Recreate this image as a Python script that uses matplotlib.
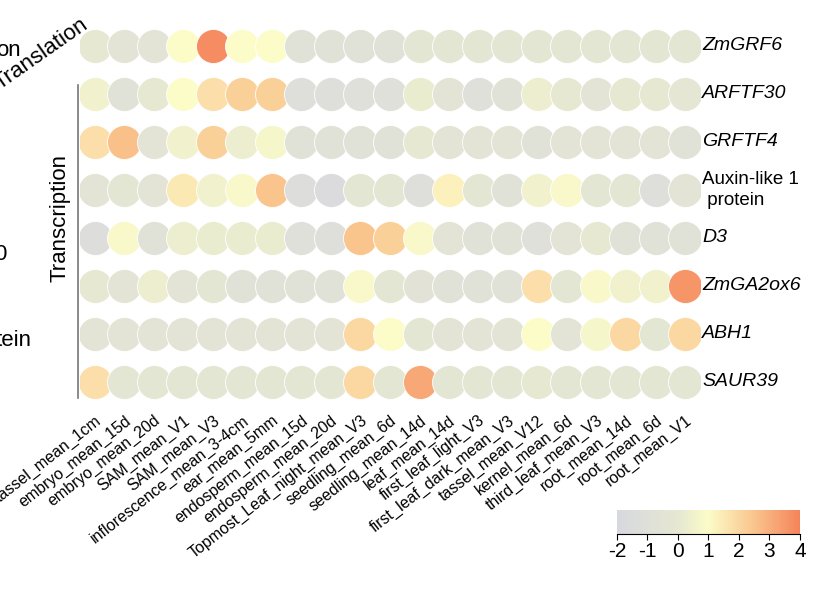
import matplotlib
matplotlib.use("Agg")
import matplotlib.pyplot as plt
from matplotlib.colors import LinearSegmentedColormap, Normalize
import numpy as np

plt.rcParams["font.family"] = "Liberation Sans"

samples = ["tassel_mean_1cm","embryo_mean_15d","embryo_mean_20d","SAM_mean_V1","SAM_mean_V3",
           "inflorescence_mean_3-4cm","ear_mean_5mm","endosperm_mean_15d","endosperm_mean_20d",
           "Topmost_Leaf_night_mean_V3","seedling_mean_6d","seedling_mean_14d","leaf_mean_14d",
           "first_leaf_light_V3","first_leaf_dark_mean_V3","tassel_mean_V12","kernel_mean_6d",
           "third_leaf_mean_V3","root_mean_14d","root_mean_6d","root_mean_V1"]
genes = ["ZmGRF6","ARFTF30","GRFTF4","Auxin-like 1\n protein","D3","ZmGA2ox6","ABH1","SAUR39"]
italic = [True, True, True, False, True, True, True, True]

ZmGRF6   = [0,-0.5,-0.5,1,3.8,1,1,-0.8,-0.8,-0.8,-0.8,-0.3,-0.3,-0.3,-0.3,-0.3,-0.3,-0.3,-0.3,-0.3,-0.3]
ARFTF30  = [0.5,-0.7,0,1,1.8,2.2,2.2,-1.2,-1.2,-1,-1,0.2,-0.5,-1,-0.7,0.3,0,-0.5,0,0,-0.2]
GRFTF4   = [1.8,2.6,-0.5,0.5,2.2,0.3,0.7,-0.8,-0.8,-0.8,-0.8,0,-0.5,-0.5,-0.5,-0.7,-0.5,-0.5,-0.5,-0.5,-0.7]
Auxin1   = [-0.5,-0.3,-0.5,1.5,0.5,0.8,2.5,-1.3,-1.6,-0.3,-0.3,-1.2,1.3,-0.3,-0.8,0.5,0.8,-0.3,-0.3,-1.2,-0.5]
D3       = [-1.3,0.8,-0.8,0.3,0.2,0.2,0.2,-1,-1.2,2.5,2.2,0.8,-0.5,-0.7,-0.7,-1,-0.5,0,-0.7,-0.7,-0.7]
ZmGA2ox6 = [0,-0.5,0.3,-0.5,-0.3,-0.8,-0.7,-0.7,-0.7,0.8,-0.3,-0.6,-0.7,-0.7,-0.8,1.8,-0.3,0.8,0.5,0.5,3.6]
ABH1     = [-0.5,-0.5,-0.5,-0.5,-0.5,-0.5,-0.5,-0.5,-0.5,2,1,-0.3,-0.5,-0.5,-0.5,1,-0.5,0.7,2,-0.3,2]
SAUR39   = [1.8,-0.3,-0.3,-0.3,-0.3,-0.3,-0.3,-0.3,-0.3,2,-0.3,3.2,-0.3,-0.3,-0.3,0,-0.3,-0.3,-0.3,-0.3,-0.3]
values = [ZmGRF6, ARFTF30, GRFTF4, Auxin1, D3, ZmGA2ox6, ABH1, SAUR39]
cbar_ticks = [-2,-1,0,1,2,3,4]

cmap = LinearSegmentedColormap.from_list("c", [(0,"#d8d8e0"),(1/3,"#e6e8d2"),(0.5,"#fcfcc8"),(0.75,"#fac58e"),(1,"#f5845a")])
norm = Normalize(-2, 4)

fig = plt.figure(figsize=(8.2, 6.04), dpi=100)
ax = fig.add_axes([0.0976, 0.328, 0.756, 0.636])
ax.set_xlim(-0.5, len(samples)-0.5)
ax.set_ylim(len(genes)-0.5, -0.5)
for i, row in enumerate(values):
    for j, v in enumerate(row):
        ax.scatter(j, i, s=600, color=cmap(norm(v)), edgecolors="white", linewidths=0.6, zorder=2+j)
ax.set_xticks(range(len(samples)))
ax.set_xticklabels(samples, rotation=38, ha="right", rotation_mode="anchor", fontsize=11.5)
ax.tick_params(axis="x", length=0, pad=5)
ax.set_yticks([])
for s in ax.spines.values():
    s.set_visible(False)
for i, g in enumerate(genes):
    ax.text(len(samples)-0.42, i, g, fontsize=14 if italic[i] else 13.5,
            style="italic" if italic[i] else "normal", va="center", ha="left", linespacing=1.35)

# left group annotations
fig.add_artist(plt.Line2D([78/820, 78/820], [1-85/604, 1-398/604], color="#777777", lw=1.2))
fig.text(60/820, 1-218/604, "Transcription", rotation=90, ha="center", va="center", fontsize=16)
fig.text(92/820, 1-54/604, "Translation", rotation=35, ha="right", va="center", fontsize=16)
fig.text(-4/820, 1-50/604, "on", ha="left", va="center", fontsize=16)
fig.text(-6/820, 1-255/604, "0", ha="left", va="center", fontsize=16)
fig.text(-4/820, 1-340/604, "tein", ha="left", va="center", fontsize=16)

cax = fig.add_axes([617/820, 1-534/604, 183/820, 24/604])
grad = np.linspace(-2, 4, 256).reshape(1, -1)
cax.imshow(grad, aspect="auto", cmap=cmap, norm=norm, extent=[-2, 4, 0, 1])
cax.set_yticks([])
cax.set_xticks(cbar_ticks)
cax.set_xticklabels([str(t) for t in cbar_ticks], fontsize=15)
cax.tick_params(axis="x", length=4, pad=2)
for k, s in cax.spines.items():
    s.set_visible(k == "bottom")

fig.savefig("out.png", dpi=100)
